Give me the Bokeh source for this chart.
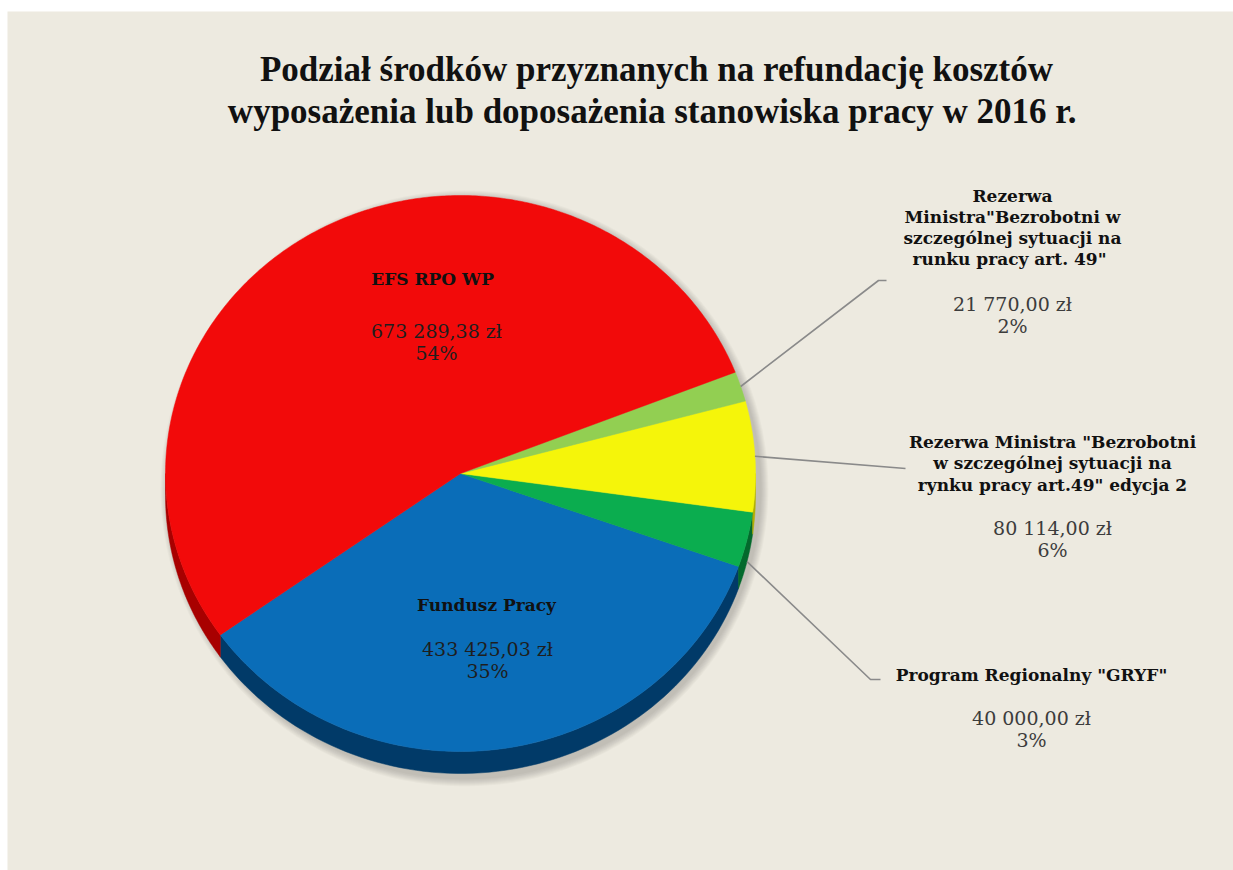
import numpy as np
from bokeh.plotting import figure
from bokeh.models import ColumnDataSource, Range1d
from bokeh.core.properties import value
from bokeh.embed import file_html
from bokeh.resources import INLINE

# ---------------- data ----------------
title_lines = ["Podział środków przyznanych na refundację kosztów",
               "wyposażenia lub doposażenia stanowiska pracy  w 2016 r."]
categories = [
    "Fundusz Pracy",
    'Program Regionalny "GRYF"',
    'Rezerwa Ministra "Bezrobotni\nw szczególnej sytuacji na\nrynku pracy art.49" edycja 2',
    'Rezerwa\nMinistra"Bezrobotni w\nszczególnej sytuacji na\nrunku  pracy art. 49"',
    "EFS  RPO WP",
]
amounts = [433425.03, 40000.00, 80114.00, 21770.00, 673289.38]
colors = ["#0A6DB8", "#0BAD4F", "#F5F50A", "#92CF52", "#F20A0A"]
side_colors = ["#013A68", "#03692C", "#B0AE00", "#5E8F2E", "#A80000"]

# ---------------- layout ----------------
W, H = 1233, 870
CX, CY, RX, RY, DEPTH = 460, 473, 295, 278, 22
START_DEG = -144.5

# label layout: (x, y of first name line, line spacing, y of value line, inside?)
label_layout = [
    (486, 604, 21, 648, True),
    (1031, 674, 21, 717, False),
    (1052, 441, 21.5, 527, False),
    (1012, 195, 21, 303, False),
    (435, 278, 21, 330, True),
]
# leader line elbows (label side) for outside labels
leaders = {1: [(870, 679), (880, 679)], 2: [(905, 468)], 3: [(878, 280), (886, 280)]}

p = figure(width=W, height=H, x_range=Range1d(7, W), y_range=Range1d(H, 11),
           output_backend="svg", toolbar_location=None,
           min_border_left=7, min_border_right=0, min_border_bottom=0, min_border_top=11)
p.axis.visible = False
p.grid.visible = False
p.outline_line_color = None
p.background_fill_color = "#EDEAE0"
p.border_fill_color = "#FFFFFF"

total = sum(amounts)
fracs = [a / total for a in amounts]
bounds = START_DEG + 360 * np.concatenate([[0], np.cumsum(fracs)])


def pt(theta_deg, dy=0.0):
    t = np.radians(theta_deg)
    return CX + RX * np.cos(t), CY - RY * np.sin(t) + dy


# soft shadow
for k in range(8):
    p.ellipse(x=CX + 4, y=CY + DEPTH / 2 + 4, width=2 * (RX + 9 - k), height=2 * (RY + DEPTH / 2 + 9 - k),
              fill_color="#000000", fill_alpha=0.025, line_color=None)

# side walls (front half only)
wall_xs, wall_ys, wall_cols = [], [], []
for i in range(len(amounts)):
    a0, a1 = bounds[i], bounds[i + 1]
    for lo, hi in [(-180, 0), (180, 360)]:
        s, e = max(a0, lo), min(a1, hi)
        if e > s:
            th = np.linspace(s, e, 80)
            x, y = pt(th)
            wall_xs.append(list(np.concatenate([x, x[::-1]])))
            wall_ys.append(list(np.concatenate([y, (y + DEPTH)[::-1]])))
            wall_cols.append(side_colors[i])
p.patches(xs=wall_xs, ys=wall_ys, fill_color=wall_cols, line_color=wall_cols, line_width=0.5)

# top faces
top_xs, top_ys = [], []
for i in range(len(amounts)):
    th = np.linspace(bounds[i], bounds[i + 1], max(8, int(fracs[i] * 600)))
    x, y = pt(th)
    top_xs.append([CX] + list(x))
    top_ys.append([CY] + list(y))
p.patches(xs=top_xs, ys=top_ys, fill_color=colors, line_color=colors, line_width=0.5)

# leader lines
for i, elbows in leaders.items():
    mid = (bounds[i] + bounds[i + 1]) / 2
    sx, sy = pt(mid, DEPTH if mid < 0 else 0)
    xs = [sx] + [e[0] for e in elbows]
    ys = [sy] + [e[1] for e in elbows]
    p.line(xs, ys, line_color="#8A8A8A", line_width=1.6)

# labels
name_x, name_y, name_t = [], [], []
val_x, val_y, val_t, val_c = [], [], [], []
for i, cat in enumerate(categories):
    x0, y0, sp, yv, inside = label_layout[i]
    for j, line in enumerate(cat.split("\n")):
        name_x.append(x0)
        name_y.append(y0 + j * sp)
        name_t.append(line)
    amt = f"{amounts[i]:,.2f}".replace(",", " ").replace(".", ",") + " zł"
    pct = f"{round(fracs[i] * 100):d}%"
    for j, t in enumerate([amt, pct]):
        val_x.append(x0 if not inside else x0 + 1)
        val_y.append(yv + j * 22)
        val_t.append(t)
        val_c.append("#1E1E1E" if inside else "#3C3C3C")

p.text(x=name_x, y=name_y, text=name_t, text_font=value("DejaVu Serif"), text_font_style="bold",
       text_font_size="17px", text_align="center", text_baseline="middle", text_color="#111111")
p.text(x=val_x, y=val_y, text=val_t, text_font=value("DejaVu Serif"),
       text_font_size="19px", text_align="center", text_baseline="middle", text_color=val_c)

# title
p.text(x=[656, 656], y=[69, 111], text=title_lines, text_font=value("Liberation Serif"),
       text_font_style="bold", text_font_size="35px", text_align="center",
       text_baseline="alphabetic", text_color="#111111")

open("out.html", "w").write(file_html(p, INLINE))
